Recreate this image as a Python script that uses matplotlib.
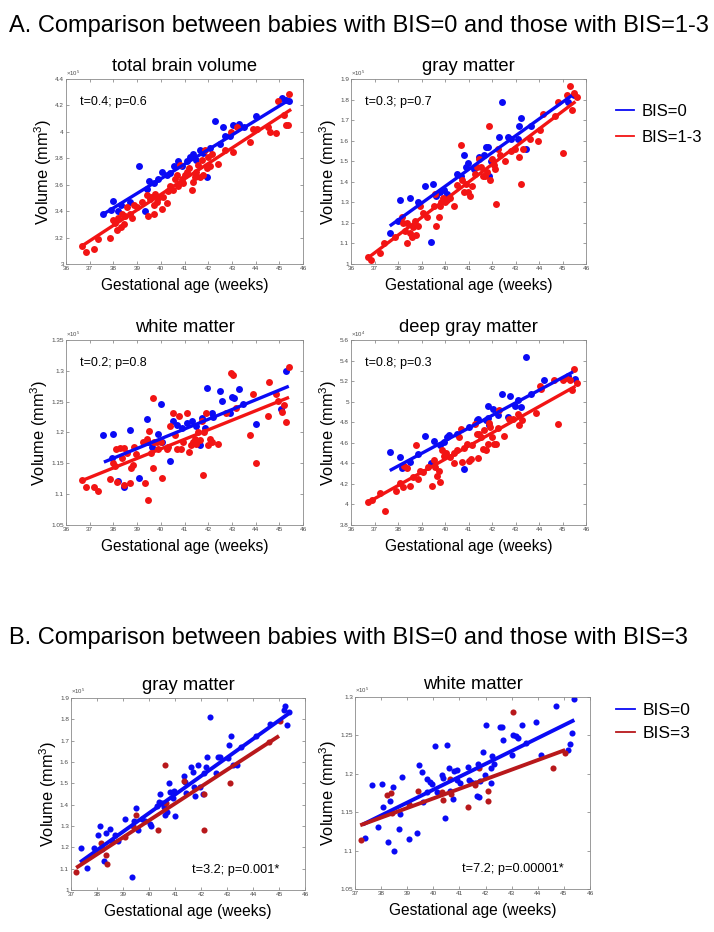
import numpy as np
import matplotlib
matplotlib.use("Agg")
import matplotlib.pyplot as plt
from matplotlib.lines import Line2D
from matplotlib.ticker import FixedLocator, FuncFormatter

plt.rcParams['font.family'] = ['Liberation Sans', 'DejaVu Sans']
plt.rcParams['mathtext.fontset'] = 'custom'
plt.rcParams['mathtext.rm'] = 'Liberation Sans'
plt.rcParams['mathtext.it'] = 'Liberation Sans:italic'

# ---------------- data ----------------
# Panel A1: total brain volume (x10^5 mm^3)
tbv_b_x = [37.58, 37.9, 38.0, 38.2, 38.3, 38.7, 39.06, 39.34, 39.4, 39.5, 39.7, 39.9, 40.04, 40.25, 40.4, 40.55,
           40.74, 40.88, 41.1, 41.23, 41.35, 41.5, 41.65, 41.8, 41.93, 42.07, 42.28, 42.5, 42.63, 42.7, 42.9, 43.05,
           43.3, 43.5, 44.0, 45.1, 45.3, 45.42]
tbv_b_y = [3.38, 3.41, 3.48, 3.40, 3.45, 3.47, 3.74, 3.40, 3.57, 3.63, 3.61, 3.64, 3.70, 3.67, 3.69, 3.74,
           3.78, 3.74, 3.78, 3.81, 3.83, 3.79, 3.86, 3.84, 3.66, 3.88, 4.08, 3.91, 4.04, 3.97, 3.97, 4.05,
           4.06, 4.04, 4.12, 4.26, 4.24, 4.23]
tbv_r_x = [36.67, 36.86, 37.2, 37.37, 37.84, 38.0, 38.08, 38.15, 38.2, 38.3, 38.35, 38.43, 38.5, 38.57, 38.7, 38.78,
           38.85, 39.0, 39.2, 39.4, 39.48, 39.55, 39.6, 39.7, 39.76, 39.83, 39.7, 39.9, 40.04, 40.1, 40.25, 40.32,
           40.39, 40.53, 40.6, 40.67, 40.74, 40.81, 40.88, 40.95, 41.02, 41.09, 41.2, 41.3, 41.34, 41.44, 41.5,
           41.58, 41.65, 41.72, 41.79, 41.86, 41.93, 42.0, 42.07, 42.14, 42.42, 42.7, 42.98, 43.05, 43.2, 43.76,
           43.9, 44.04, 44.53, 44.6, 44.88, 44.95, 45.19, 45.27, 45.37, 45.41]
tbv_r_y = [3.14, 3.09, 3.11, 3.19, 3.20, 3.33, 3.31, 3.26, 3.35, 3.28, 3.38, 3.30, 3.36, 3.43, 3.38, 3.35,
           3.45, 3.43, 3.47, 3.52, 3.36, 3.49, 3.51, 3.45, 3.53, 3.47, 3.38, 3.50, 3.42, 3.51, 3.46, 3.55,
           3.59, 3.56, 3.64, 3.67, 3.59, 3.75, 3.64, 3.61, 3.67, 3.70, 3.73, 3.56, 3.62, 3.66, 3.70,
           3.75, 3.66, 3.79, 3.67, 3.86, 3.73, 3.81, 3.74, 3.83, 3.76, 3.86, 4.00, 3.85, 4.04, 3.92,
           4.02, 4.02, 4.04, 4.00, 3.99, 4.23, 4.13, 4.05, 4.05, 4.29]
tbv_fit_b_x, tbv_fit_b_y = [37.6, 45.4], [3.38, 4.24]
tbv_fit_r_x, tbv_fit_r_y = [36.7, 45.5], [3.14, 4.17]

# Panel A2: gray matter (x10^5)
gm_b_x = [37.65, 38.08, 38.0, 38.51, 38.83, 39.16, 39.4, 39.5, 39.6, 39.8, 39.95, 40.1, 40.5, 40.7, 40.8, 40.9,
          40.99, 41.24, 41.45, 41.67, 41.74, 41.81, 41.88, 41.95, 42.3, 42.43, 42.67, 42.8, 43.1, 43.13, 43.25,
          43.46, 43.68, 45.25, 45.5]
gm_b_y = [1.153, 1.31, 1.21, 1.32, 1.30, 1.38, 1.106, 1.39, 1.33, 1.35, 1.36, 1.34, 1.44, 1.43, 1.53, 1.47,
          1.49, 1.46, 1.52, 1.53, 1.57, 1.57, 1.43, 1.50, 1.62, 1.79, 1.62, 1.61, 1.61, 1.67, 1.71,
          1.56, 1.67, 1.79, 1.82]
gm_r_x = [36.72, 36.86, 37.22, 37.39, 37.87, 38.15, 38.22, 38.3, 38.37, 38.4, 38.51, 38.58, 38.65, 38.73, 38.77,
          38.87, 38.94, 39.08, 39.23, 39.52, 39.59, 39.63, 39.73, 39.8, 39.83, 39.92, 40.02, 40.09, 40.23, 40.4,
          40.52, 40.69, 40.73, 40.8, 40.88, 40.98, 41.06, 41.16, 41.27, 41.38, 41.45, 41.52, 41.6, 41.7, 41.8,
          41.88, 41.93, 41.98, 42.07, 42.14, 42.18, 42.27, 42.36, 42.56, 42.79, 42.96, 43.17, 43.22, 43.32, 43.6,
          43.96, 44.03, 44.18, 44.68, 44.8, 45.04, 45.18, 45.33, 45.4, 45.47, 45.6]
gm_r_y = [1.032, 1.02, 1.055, 1.10, 1.13, 1.23, 1.20, 1.16, 1.20, 1.10, 1.15, 1.13, 1.18, 1.21, 1.14,
          1.185, 1.28, 1.25, 1.23, 1.28, 1.34, 1.187, 1.23, 1.28, 1.30, 1.32, 1.30, 1.31, 1.32, 1.28,
          1.385, 1.58, 1.41, 1.35, 1.39, 1.35, 1.33, 1.38, 1.44, 1.47, 1.51, 1.47, 1.43, 1.43, 1.45,
          1.67, 1.41, 1.51, 1.48, 1.46, 1.29, 1.56, 1.53, 1.50, 1.55, 1.56, 1.52, 1.39, 1.56, 1.61,
          1.60, 1.65, 1.73, 1.72, 1.79, 1.54, 1.82, 1.865, 1.75, 1.83, 1.81]
gm_fit_b_x, gm_fit_b_y = [37.65, 45.4], [1.185, 1.82]
gm_fit_r_x, gm_fit_r_y = [36.7, 45.55], [1.028, 1.79]

# Panel A3: white matter (x10^5)
wm_b_x = [37.58, 38.0, 37.94, 38.2, 38.45, 38.7, 39.06, 39.4, 39.48, 39.62, 39.87, 40.0, 40.07, 40.39, 40.53,
          40.67, 40.88, 41.09, 41.3, 41.5, 41.65, 41.72, 41.86, 41.93, 42.14, 42.2, 42.5, 42.6, 42.9, 43.0,
          43.08, 43.3, 43.47, 44.0, 45.09, 45.3]
wm_b_y = [1.196, 1.198, 1.158, 1.122, 1.111, 1.204, 1.126, 1.222, 1.185, 1.177, 1.198, 1.246, 1.185, 1.153, 1.218,
          1.212, 1.207, 1.215, 1.218, 1.21, 1.180, 1.223, 1.207, 1.272, 1.231, 1.225, 1.268, 1.251, 1.232, 1.257,
          1.256, 1.27, 1.247, 1.214, 1.238, 1.30]
wm_r_x = [36.67, 36.86, 37.2, 37.37, 37.84, 38.0, 38.08, 38.12, 38.17, 38.29,
          38.36, 38.43, 38.45, 38.57, 38.68, 38.73, 38.82, 38.87, 38.96, 39.27,
          39.34, 39.4, 39.48, 39.52, 39.58, 39.66, 39.69, 39.72, 39.83, 39.9,
          40.0, 40.04, 40.25, 40.32, 40.39, 40.5, 40.6, 40.67, 40.78, 40.84,
          40.92, 41.09, 41.2, 41.26, 41.37, 41.44, 41.5, 41.58, 41.65, 41.72,
          41.76, 41.82, 41.9, 42.0, 42.07, 42.14, 42.42, 42.77, 42.98, 43.05,
          43.17, 43.76, 43.87, 44.01, 44.53, 44.57, 44.85, 44.95, 45.13, 45.19,
          45.27, 45.41]
wm_r_y = [1.123, 1.112, 1.112, 1.105, 1.125, 1.15, 1.145, 1.173, 1.12, 1.175,
          1.158, 1.175, 1.115, 1.166, 1.118, 1.142, 1.147, 1.177, 1.165, 1.185,
          1.118, 1.19, 1.09, 1.202, 1.167, 1.256, 1.142, 1.185, 1.185, 1.173,
          1.185, 1.127, 1.173, 1.177, 1.21, 1.231, 1.196, 1.174, 1.227, 1.174,
          1.185, 1.231, 1.168, 1.18, 1.185, 1.19, 1.181, 1.201, 1.188, 1.219,
          1.131, 1.201, 1.231, 1.18, 1.19, 1.185, 1.181, 1.231, 1.297, 1.293,
          1.239, 1.196, 1.263, 1.15, 1.227, 1.282, 1.262, 1.251, 1.234, 1.244,
          1.217, 1.307]
wm_fit_b_x, wm_fit_b_y = [37.6, 45.4], [1.152, 1.275]
wm_fit_r_x, wm_fit_r_y = [36.67, 45.41], [1.122, 1.257]

# Panel A4: deep gray matter (x10^4)
dgm_b_x = [37.65, 38.08, 38.15, 38.51, 38.87, 39.16, 39.4, 39.54, 39.8, 39.95,
           40.09, 40.16, 40.52, 40.8, 41.02, 41.35, 41.42, 41.74, 41.81, 41.84,
           41.88, 42.03, 42.24, 42.41, 42.67, 42.77, 42.96, 43.1, 43.22, 43.46,
           43.68, 44.2, 45.25, 45.54]
dgm_b_y = [4.51, 4.46, 4.35, 4.41, 4.49, 4.67, 4.40, 4.62, 4.58, 4.61,
           4.66, 4.68, 4.69, 4.34, 4.75, 4.82, 4.83, 4.82, 4.84, 4.96,
           4.77, 4.93, 4.87, 5.07, 4.85, 5.06, 4.96, 5.02, 4.95, 5.43,
           5.07, 5.21, 5.25, 5.22]
dgm_r_x = [36.72, 36.9, 37.22, 37.43, 37.91, 38.08, 38.2, 38.27, 38.37, 38.51,
           38.65, 38.77, 38.83, 38.94, 39.08, 39.26, 39.44, 39.52, 39.59, 39.66,
           39.73, 39.8, 39.87, 39.95, 40.06, 40.2, 40.38, 40.4, 40.52, 40.59,
           40.66, 40.73, 40.8, 40.92, 41.02, 41.09, 41.16, 41.27, 41.35, 41.41,
           41.45, 41.52, 41.6, 41.67, 41.74, 41.81, 41.88, 41.92, 41.98, 42.07,
           42.17, 42.24, 42.31, 42.53, 42.74, 42.89, 43.1, 43.17, 43.27, 43.89,
           44.03, 44.1, 44.65, 44.8, 45.0, 45.14, 45.33, 45.4, 45.47, 45.61]
dgm_r_y = [4.02, 4.04, 4.11, 3.94, 4.13, 4.21, 4.17, 4.37, 4.35, 4.18,
           4.27, 4.58, 4.25, 4.33, 4.32, 4.36, 4.18, 4.43, 4.36, 4.28,
           4.33, 4.22, 4.53, 4.47, 4.50, 4.46, 4.50, 4.40, 4.53, 4.66,
           4.73, 4.41, 4.55, 4.59, 4.42, 4.44, 4.58, 4.78, 4.69, 4.45,
           4.69, 4.66, 4.54, 4.72, 4.53, 4.59, 4.79, 4.75, 4.66, 4.59,
           4.59, 4.74, 4.92, 4.67, 4.83, 4.83, 4.88, 4.77, 4.82, 4.89,
           5.15, 5.12, 5.21, 4.78, 5.21, 5.23, 5.21, 5.11, 5.32, 5.18]
dgm_fit_b_x, dgm_fit_b_y = [37.65, 45.45], [4.33, 5.29]
dgm_fit_r_x, dgm_fit_r_y = [36.72, 45.55], [4.02, 5.15]

# Panel B1: gray matter, BIS=0 vs BIS=3 (x10^5)
bgm_b_x = [37.38, 37.61, 37.87, 38.04, 38.1, 38.19, 38.25, 38.36, 38.49, 38.57,
           38.7, 38.79, 39.09, 39.34, 39.43, 39.5, 39.56, 39.73, 39.86, 40.04,
           40.09, 40.3, 40.37, 40.43, 40.5, 40.56, 40.62, 40.69, 40.75, 40.82,
           40.92, 40.97, 41.0, 41.33, 41.39, 41.43, 41.6, 41.69, 41.74, 41.77,
           41.9, 41.97, 42.07, 42.12, 42.2, 42.22, 42.35, 42.58, 42.65, 42.74,
           43.02, 43.06, 43.15, 43.22, 43.4, 43.53, 44.12, 44.66, 45.2, 45.23,
           45.3, 45.4]
bgm_b_y = [1.198, 1.104, 1.196, 1.26, 1.30, 1.19, 1.135, 1.267, 1.284, 1.232,
           1.256, 1.229, 1.335, 1.06, 1.324, 1.385, 1.28, 1.335, 1.324, 1.31,
           1.30, 1.394, 1.413, 1.45, 1.41, 1.39, 1.35, 1.366, 1.50, 1.46,
           1.433, 1.465, 1.346, 1.535, 1.507, 1.455, 1.575, 1.554, 1.484, 1.44,
           1.584, 1.484, 1.45, 1.547, 1.575, 1.625, 1.81, 1.55, 1.625, 1.622,
           1.617, 1.679, 1.722, 1.586, 1.586, 1.672, 1.722, 1.78, 1.845, 1.864,
           1.773, 1.834]
bgm_r_x = [37.2, 38.17, 38.36, 38.38, 39.06, 39.4, 39.5, 40.34, 40.62, 40.66, 41.33, 42.1, 42.12, 43.1, 44.6, 45.02]
bgm_r_y = [1.083, 1.222, 1.166, 1.12, 1.25, 1.30, 1.353, 1.283, 1.586, 1.408, 1.512, 1.45, 1.283, 1.503, 1.696, 1.793]
bgm_fit_b_x, bgm_fit_b_y = [37.35, 45.35], [1.13, 1.825]
bgm_fit_r_x, bgm_fit_r_y = [37.2, 45.0], [1.104, 1.722]

# Panel B2: white matter, BIS=0 vs BIS=3 (x10^5)
bwm_b_x = [37.38, 37.64, 37.87, 38.02, 38.09, 38.25, 38.34, 38.47, 38.49, 38.7,
           38.72, 38.79, 39.08, 39.39, 39.47, 39.55, 39.59, 39.75, 39.77, 39.87,
           39.94, 40.06, 40.13, 40.32, 40.38, 40.45, 40.54, 40.61, 40.64, 40.74,
           40.8, 40.9, 40.92, 41.02, 41.34, 41.38, 41.43, 41.6, 41.69, 41.72,
           41.76, 41.79, 41.89, 41.98, 42.01, 42.2, 42.21, 42.24, 42.33, 42.56,
           42.62, 42.68, 43.0, 43.07, 43.17, 43.26, 43.39, 43.55, 43.93, 44.11,
           44.69, 45.17, 45.24, 45.3, 45.4]
bwm_b_y = [1.116, 1.185, 1.131, 1.187, 1.157, 1.111, 1.165, 1.183, 1.10, 1.128,
           1.148, 1.196, 1.115, 1.123, 1.212, 1.202, 1.163, 1.176, 1.193, 1.189,
           1.187, 1.236, 1.176, 1.199, 1.195, 1.143, 1.237, 1.208, 1.178, 1.167,
           1.204, 1.192, 1.205, 1.188, 1.209, 1.192, 1.189, 1.188, 1.171, 1.213,
           1.17, 1.191, 1.228, 1.198, 1.263, 1.188, 1.208, 1.223, 1.213, 1.261,
           1.261, 1.244, 1.225, 1.25, 1.249, 1.247, 1.263, 1.24, 1.267, 1.224,
           1.288, 1.231, 1.239, 1.253, 1.297]
bwm_r_x = [37.22, 38.21, 38.38, 38.4, 39.08, 39.43, 40.32, 40.36, 40.64, 40.67, 41.34, 41.6, 41.76, 42.11, 42.11,
           43.07, 44.6, 45.05]
bwm_r_y = [1.114, 1.172, 1.175, 1.149, 1.161, 1.177, 1.176, 1.166, 1.193, 1.174, 1.157, 1.185, 1.208, 1.177, 1.165,
           1.28, 1.207, 1.227]
bwm_fit_b_x, bwm_fit_b_y = [37.3, 45.4], [1.134, 1.27]
bwm_fit_r_x, bwm_fit_r_y = [37.2, 45.05], [1.133, 1.231]

titles_A = ["total brain volume", "gray matter", "white matter", "deep gray matter"]
stats_A = ["t=0.4; p=0.6", "t=0.3; p=0.7", "t=0.2; p=0.8", "t=0.8; p=0.3"]
titles_B = ["gray matter", "white matter"]
stats_B = ["t=3.2; p=0.001*", "t=7.2; p=0.00001*"]
legend_A = ["BIS=0", "BIS=1-3"]
legend_B = ["BIS=0", "BIS=3"]
heading_A = "A. Comparison between babies with BIS=0 and those with BIS=1-3"
heading_B = "B. Comparison between babies with BIS=0 and those with BIS=3"
xlabel = "Gestational age (weeks)"
ylabel = "Volume (mm$^{\\mathrm{3}}$)"

BLUE = "#0a0af5"
RED = "#f21414"
DRED = "#b8181b"

W, H = 714, 932
fig = plt.figure(figsize=(W / 100, H / 100), dpi=100)


def add_ax(l, t, r, b):
    return fig.add_axes([l / W, 1 - b / H, (r - l) / W, (b - t) / H])


def fmt(v, p):
    return f"{round(v, 4):g}"


def style(ax, xlim, xticks, ylim, yticks, expo):
    ax.set_xlim(*xlim)
    ax.set_ylim(*ylim)
    ax.xaxis.set_major_locator(FixedLocator(xticks))
    ax.yaxis.set_major_locator(FixedLocator(yticks))
    ax.xaxis.set_major_formatter(FuncFormatter(fmt))
    ax.yaxis.set_major_formatter(FuncFormatter(fmt))
    ax.tick_params(direction='in', top=True, right=True, length=2.5, width=0.5,
                   labelsize=4.6, labelcolor='#4a4a4a', color='#777777', pad=1.5)
    for s in ax.spines.values():
        s.set_color('#8a8a8a')
        s.set_linewidth(0.6)
    ax.text(0.0, 1.008, "\u00d710$^{%d}$" % expo, transform=ax.transAxes, fontsize=4.3,
            color='#4a4a4a', ha='left', va='bottom')
    ax.set_xlabel(xlabel, fontsize=11.2, labelpad=5)
    ax.set_ylabel(ylabel, fontsize=11.8, labelpad=1)


def panel(ax, bx, by, rx, ry, fbx, fby, frx, fry, rcol, ms, lw):
    ax.plot(bx, by, 'o', color=BLUE, ms=ms, mec='none', zorder=2)
    ax.plot(rx, ry, 'o', color=rcol, ms=ms, mec='none', zorder=2)
    ax.plot(fbx, fby, '-', color=BLUE, lw=lw, solid_capstyle='butt', zorder=3)
    ax.plot(frx, fry, '-', color=rcol, lw=lw, solid_capstyle='butt', zorder=3)


# ----- Section A -----
xA = (36, 46)
xtA = list(range(36, 47))
a1 = add_ax(66, 79, 303, 264)
panel(a1, tbv_b_x, tbv_b_y, tbv_r_x, tbv_r_y, tbv_fit_b_x, tbv_fit_b_y, tbv_fit_r_x, tbv_fit_r_y, RED, 5, 2.4)
style(a1, xA, xtA, (3, 4.4), np.arange(3, 4.41, 0.2), 5)

a2 = add_ax(351, 79, 586, 264)
panel(a2, gm_b_x, gm_b_y, gm_r_x, gm_r_y, gm_fit_b_x, gm_fit_b_y, gm_fit_r_x, gm_fit_r_y, RED, 5, 2.4)
style(a2, xA, xtA, (1, 1.9), np.arange(1, 1.91, 0.1), 5)

a3 = add_ax(66, 340, 303, 525)
panel(a3, wm_b_x, wm_b_y, wm_r_x, wm_r_y, wm_fit_b_x, wm_fit_b_y, wm_fit_r_x, wm_fit_r_y, RED, 5, 2.4)
style(a3, xA, xtA, (1.05, 1.35), np.arange(1.05, 1.351, 0.05), 5)

a4 = add_ax(351, 340, 586, 525)
panel(a4, dgm_b_x, dgm_b_y, dgm_r_x, dgm_r_y, dgm_fit_b_x, dgm_fit_b_y, dgm_fit_r_x, dgm_fit_r_y, RED, 5, 2.4)
style(a4, xA, xtA, (3.8, 5.6), np.arange(3.8, 5.61, 0.2), 4)

for ax, t, s in zip([a1, a2, a3, a4], titles_A, stats_A):
    ax.set_title(t, fontsize=13.2, pad=6)
    ax.text(0.06, 0.875, s, transform=ax.transAxes, fontsize=9, ha='left', va='center')

# ----- Section B -----
xB = (37, 46)
xtB = list(range(37, 47))
b1 = add_ax(71, 698, 305, 890)
panel(b1, bgm_b_x, bgm_b_y, bgm_r_x, bgm_r_y, bgm_fit_b_x, bgm_fit_b_y, bgm_fit_r_x, bgm_fit_r_y, DRED, 4.4, 2.8)
style(b1, xB, xtB, (1, 1.9), np.arange(1, 1.91, 0.1), 5)

b2 = add_ax(355, 697, 590, 889)
panel(b2, bwm_b_x, bwm_b_y, bwm_r_x, bwm_r_y, bwm_fit_b_x, bwm_fit_b_y, bwm_fit_r_x, bwm_fit_r_y, DRED, 4.4, 2.8)
style(b2, xB, xtB, (1.05, 1.3), np.arange(1.05, 1.301, 0.05), 5)

for ax, t, s in zip([b1, b2], titles_B, stats_B):
    ax.set_title(t, fontsize=13.2, pad=6)
    ax.text(0.89, 0.105, s, transform=ax.transAxes, fontsize=9.2, ha='right', va='center')

# headings
fig.text(9 / W, 1 - 26 / H, heading_A, fontsize=17, ha='left', va='center')
fig.text(9 / W, 1 - 638 / H, heading_B, fontsize=17, ha='left', va='center')

# legends
hA = [Line2D([], [], color=BLUE, lw=1.3), Line2D([], [], color=RED, lw=1.3)]
fig.legend(hA, legend_A, loc='upper left', bbox_to_anchor=(616 / W, 1 - 104 / H), frameon=False,
           fontsize=12, handlelength=1.1, handletextpad=0.45, labelspacing=0.65, borderpad=0, borderaxespad=0)
hB = [Line2D([], [], color=BLUE, lw=1.3), Line2D([], [], color=DRED, lw=1.3)]
fig.legend(hB, legend_B, loc='upper left', bbox_to_anchor=(616 / W, 1 - 703 / H), frameon=False,
           fontsize=12.5, handlelength=1.1, handletextpad=0.45, labelspacing=0.45, borderpad=0, borderaxespad=0)

fig.savefig("out.png", dpi=100)
